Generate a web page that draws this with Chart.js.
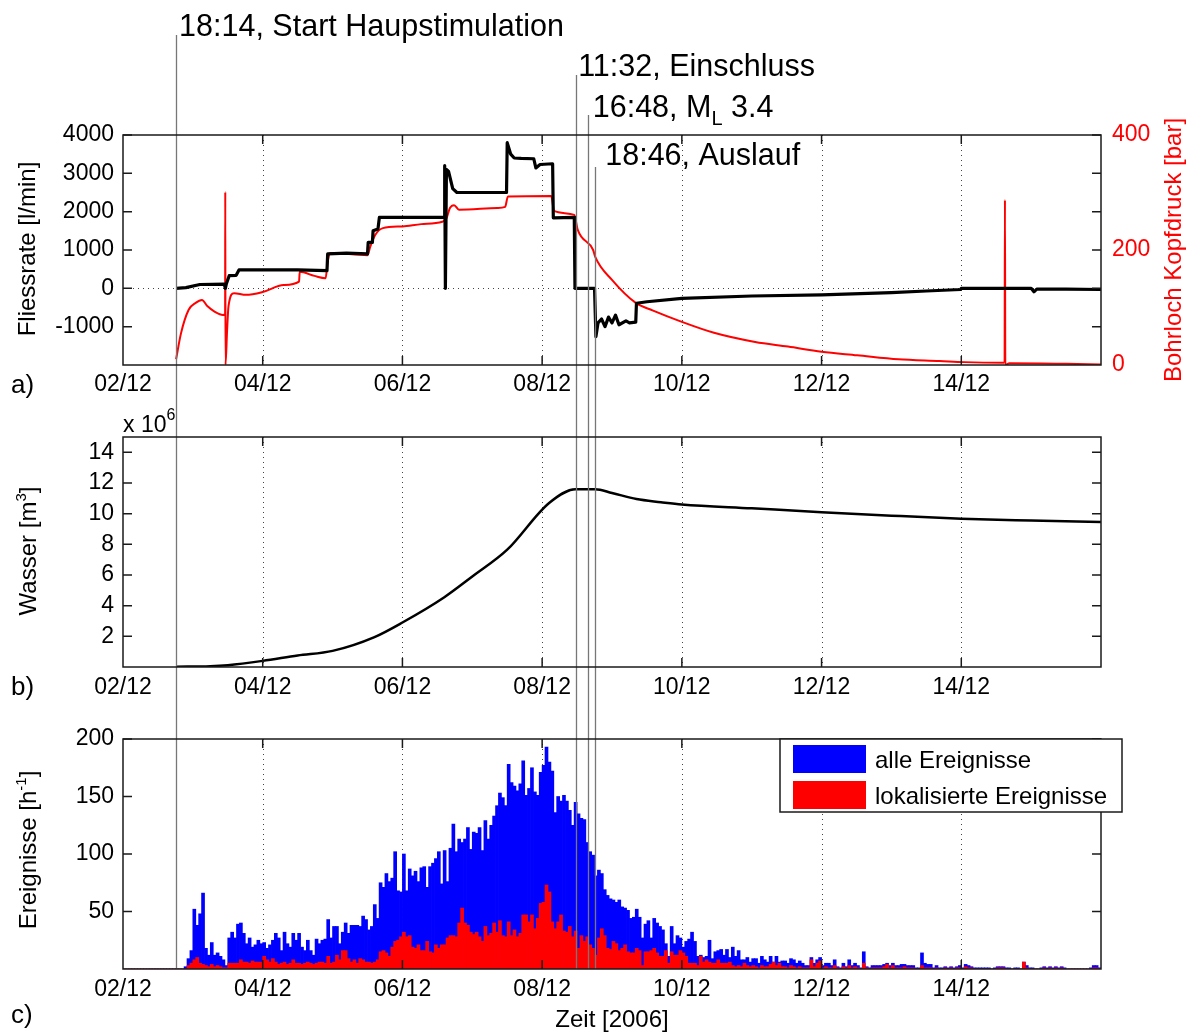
<!DOCTYPE html>
<html>
<head>
<meta charset="utf-8">
<script src="https://cdn.jsdelivr.net/npm/chart.js@4.4.0/dist/chart.umd.min.js"></script>
<style>
  body { margin: 0; background: #fff; }
  canvas { display: block; }
</style>
</head>
<body>
<canvas id="panelA" width="1189" height="400"></canvas>
<canvas id="panelB" width="1189" height="300"></canvas>
<canvas id="panelC" width="1189" height="332"></canvas>
<script>
// x axis: days since 02/12/2006 00:00
const tickDays = [0, 2, 4, 6, 8, 10, 12];
const dayLabels = ['02/12', '04/12', '06/12', '08/12', '10/12', '12/12', '14/12'];

// event markers
const eventDays = [0.76, 6.48, 6.653, 6.76];
const eventLabels = ['18:14, Start Haupstimulation', '11:32, Einschluss', '16:48, M_L 3.4', '18:46, Auslauf'];

// a) flow rate [l/min]
const flowDays = [0.76, 0.9, 1.1, 1.45, 1.465, 1.48, 1.52, 1.62, 1.66, 2.5,
  2.92, 2.93, 3.2, 3.5, 3.51, 3.57, 3.58, 3.65, 3.67, 4.2,
  4.6, 4.605, 4.615, 4.63, 4.66, 4.72, 4.78, 5.2, 5.49, 5.5,
  5.55, 5.6, 5.7, 5.88, 5.91, 5.97, 6.15, 6.16, 6.46, 6.47,
  6.75, 6.77, 6.8, 6.85, 6.9, 6.95, 7.0, 7.05, 7.1, 7.2,
  7.25, 7.34, 7.35, 7.5, 8.0, 9.0, 10.0, 11.0, 11.5, 11.99,
  12.0, 12.5, 13.0, 13.04, 13.08, 13.5, 14.0];
const flowRate = [0, 20, 100, 110, 0, 120, 330, 340, 480, 480,
  460, 900, 920, 900, 1200, 1200, 1500, 1550, 1850, 1850,
  1850, 3200, 0, 3100, 3050, 2600, 2500, 2500, 2500, 3800,
  3500, 3400, 3390, 3380, 3140, 3230, 3250, 1840, 1850, 0,
  0, -1260, -900, -800, -1000, -750, -900, -700, -950, -850,
  -900, -880, -390, -350, -260, -200, -170, -110, -70, -30,
  0, 0, 0, -90, -20, -20, -30];
const flowTicks = [-1000, 0, 1000, 2000, 3000, 4000];

// a) wellhead pressure [bar]
const pressDays = [0.76, 0.83, 0.94, 1.04, 1.13, 1.21, 1.31, 1.43,
  1.462, 1.464, 1.467, 1.49, 1.51, 1.59, 1.76,
  2.0, 2.3, 2.52, 2.53, 2.74, 2.9, 2.93, 2.97,
  3.5, 3.54, 3.61, 3.72,
  4.0, 4.27, 4.57, 4.63, 4.68, 4.74, 4.81,
  5.36, 5.47, 5.51,
  6.13, 6.17, 6.46, 6.51, 6.73, 6.76,
  7.0, 7.34, 7.58, 8.0, 8.46, 9.05, 9.52, 10.0, 10.51, 11.1, 11.69,
  12.04, 12.62, 12.625, 12.63, 12.69, 13.5, 14.0];
const pressure = [10, 55, 96, 108, 113, 102, 93, 87,
  88, 301, 0, 60, 102, 125, 122,
  127, 139, 145, 162, 155, 151, 180, 195,
  191, 206, 226, 238,
  241, 245, 249, 255, 273, 278, 270,
  273, 275, 293,
  294, 268, 261, 235, 200, 188,
  148, 108, 95, 75, 56, 40, 32, 23, 17, 10, 7,
  5, 4, 287, 0, 3, 2, 1];
const pressTicks = [0, 200, 400];

// b) injected water [10^6 m3]
const volDays = [0.76, 1.25, 1.5, 2.0, 2.5, 3.0, 3.6, 4.0, 4.6, 5.0, 5.5, 6.1,
  6.48, 6.76, 7.0, 7.35, 7.7, 8.0, 9.0, 10.0, 11.0, 12.0, 13.0, 14.0];
const volume = [0.02, 0.05, 0.12, 0.4, 0.75, 1.05, 1.95, 2.9, 4.55, 5.9, 7.65, 10.7,
  11.6, 11.6, 11.35, 10.95, 10.75, 10.6, 10.35, 10.1, 9.87, 9.67, 9.55, 9.45];
const volTicks = [2, 4, 6, 8, 10, 12, 14];

// c) events per hour, one row per day
const allEvents = [
  0, 0, 0, 0, 0, 0, 0, 0, 0, 0, 0, 0, 0, 0, 0, 0, 0, 0, 0, 0, 0, 2, 9, 16,
  52, 38, 48, 66, 18, 12, 23, 12, 14, 11, 8, 3, 27, 32, 27, 39, 40, 31, 22, 27, 19, 21, 25, 22,
  23, 18, 21, 25, 31, 27, 16, 32, 22, 19, 31, 25, 31, 19, 16, 25, 16, 12, 26, 22, 25, 26, 43, 27,
  37, 37, 22, 32, 40, 31, 38, 38, 38, 37, 46, 43, 34, 37, 56, 44, 75, 71, 83, 76, 79, 102, 68, 67,
  100, 68, 87, 81, 85, 76, 88, 89, 71, 89, 92, 96, 102, 74, 103, 76, 105, 126, 102, 113, 110, 113, 123, 104,
  119, 118, 123, 103, 129, 113, 125, 133, 142, 153, 149, 142, 178, 162, 159, 155, 161, 181, 151, 157, 175, 154, 151, 171,
  177, 193, 180, 172, 136, 150, 146, 151, 146, 138, 125, 145, 135, 131, 130, 110, 102, 99, 81, 86, 83, 69, 64, 61,
  60, 58, 60, 54, 53, 51, 44, 45, 52, 45, 27, 39, 42, 27, 44, 40, 37, 34, 22, 11, 37, 22, 29, 27,
  19, 24, 26, 32, 24, 11, 12, 10, 11, 25, 9, 15, 16, 17, 12, 17, 10, 19, 11, 16, 8, 8, 10, 6,
  9, 9, 5, 11, 8, 6, 11, 6, 11, 6, 7, 7, 5, 9, 8, 5, 7, 5, 3, 3, 10, 5, 8, 10,
  3, 5, 5, 3, 8, 2, 1, 5, 2, 8, 3, 5, 3, 1, 15, 2, 1, 3, 3, 3, 3, 4, 5, 3,
  5, 3, 3, 4, 4, 3, 3, 3, 1, 1, 14, 5, 4, 4, 1, 3, 1, 1, 2, 1, 2, 1, 2, 3,
  1, 4, 3, 2, 1, 1, 1, 1, 1, 1, 0, 1, 2, 2, 2, 1, 1, 0, 1, 1, 0, 6, 3, 1,
  1, 0, 0, 1, 2, 1, 2, 1, 2, 1, 2, 1, 0, 0, 0, 0, 0, 0, 0, 0, 1, 3, 3, 1
];
const locatedEvents = [
  0, 0, 0, 0, 0, 0, 0, 0, 0, 0, 0, 0, 0, 0, 0, 0, 0, 0, 0, 0, 0, 0, 3, 5,
  8, 10, 5, 4, 3, 2, 4, 2, 3, 2, 1, 1, 5, 5, 5, 5, 8, 6, 6, 5, 7, 6, 6, 6,
  11, 8, 6, 9, 6, 4, 5, 6, 4, 5, 8, 5, 5, 4, 5, 6, 5, 4, 5, 6, 6, 5, 11, 5,
  6, 12, 8, 16, 16, 9, 6, 8, 5, 9, 8, 6, 6, 5, 6, 8, 15, 16, 14, 11, 19, 24, 25, 28,
  32, 28, 29, 19, 18, 21, 16, 16, 24, 15, 14, 21, 18, 21, 21, 27, 29, 29, 28, 40, 53, 40, 38, 32,
  30, 32, 28, 24, 37, 29, 31, 40, 32, 42, 29, 28, 41, 29, 34, 28, 31, 47, 47, 41, 47, 35, 44, 57,
  58, 73, 67, 41, 35, 41, 47, 33, 32, 37, 28, 33, 18, 29, 24, 28, 21, 18, 12, 27, 35, 29, 18, 17,
  24, 22, 16, 18, 21, 15, 14, 14, 18, 16, 3, 15, 15, 16, 18, 14, 11, 11, 16, 5, 15, 12, 12, 16,
  14, 11, 5, 5, 5, 3, 11, 6, 8, 6, 5, 5, 8, 5, 5, 5, 6, 3, 2, 3, 2, 5, 3, 2,
  3, 2, 1, 3, 2, 2, 4, 6, 3, 5, 2, 2, 1, 3, 2, 1, 2, 1, 1, 1, 8, 2, 5, 7,
  1, 2, 1, 1, 3, 1, 0, 2, 1, 3, 1, 2, 1, 0, 5, 1, 0, 1, 1, 1, 1, 2, 4, 1,
  3, 1, 1, 1, 2, 1, 1, 1, 0, 0, 3, 1, 1, 1, 0, 1, 0, 0, 1, 0, 1, 0, 1, 1,
  0, 2, 1, 1, 0, 0, 0, 0, 0, 0, 0, 0, 1, 1, 1, 0, 0, 0, 0, 0, 0, 6, 1, 0,
  0, 0, 0, 0, 1, 0, 1, 0, 1, 0, 1, 0, 0, 0, 0, 0, 0, 0, 0, 0, 0, 1, 1, 0
];
const eventTicks = [50, 100, 150, 200];

const FONT = '"Liberation Sans", Arial, Helvetica, sans-serif';
Chart.defaults.font.family = FONT;
Chart.defaults.font.size = 23;
Chart.defaults.color = '#000';
Chart.defaults.animation = false;
Chart.defaults.plugins.legend.display = false;
Chart.defaults.plugins.tooltip.enabled = false;

function richText(ctx, parts, x, y, opts = {}) {
  ctx.save();
  ctx.translate(x, y);
  if (opts.rotate) ctx.rotate(-Math.PI / 2);
  ctx.textBaseline = 'alphabetic';
  ctx.textAlign = 'left';
  ctx.fillStyle = opts.color || '#000';
  let total = 0;
  const widths = parts.map(p => {
    ctx.font = p.size + 'px ' + FONT;
    const w = ctx.measureText(p.text).width;
    total += w;
    return w;
  });
  let cx = opts.center ? -total / 2 : 0;
  parts.forEach((p, i) => {
    ctx.font = p.size + 'px ' + FONT;
    ctx.fillText(p.text, cx, p.dy || 0);
    cx += widths[i];
  });
  ctx.restore();
}

function labelParts(label) {
  const i = label.indexOf('_');
  if (i < 0) return [{ text: label, size: 30.5 }];
  return [
    { text: label.slice(0, i), size: 30.5 },
    { text: label[i + 1], size: 20, dy: 8 },
    { text: label.slice(i + 2), size: 30.5 }
  ];
}

const decor = {
  id: 'decor',
  beforeDatasetsDraw(chart, args, opts) {
    const { ctx, chartArea: a, scales } = chart;
    ctx.save();
    ctx.strokeStyle = '#444';
    ctx.lineWidth = 1;
    ctx.setLineDash([1, 4]);
    ctx.beginPath();
    scales.x.ticks.forEach(t => {
      if (t.value <= 0 || t.value >= 14) return;
      const px = Math.round(scales.x.getPixelForValue(t.value)) + 0.5;
      ctx.moveTo(px, a.top);
      ctx.lineTo(px, a.bottom);
    });
    if (opts.zeroLine) {
      const py = Math.round(scales.y.getPixelForValue(0)) + 0.5;
      ctx.moveTo(a.left, py);
      ctx.lineTo(a.right, py);
    }
    ctx.stroke();
    ctx.restore();
  },
  afterDraw(chart, args, opts) {
    const { ctx, chartArea: a, scales } = chart;
    const xs = scales.x, ys = scales.y;
    ctx.save();

    // event lines
    ctx.strokeStyle = '#777';
    ctx.lineWidth = 1.3;
    ctx.beginPath();
    eventDays.forEach((d, i) => {
      const px = Math.round(xs.getPixelForValue(d)) + 0.5;
      const top = opts.lineTops ? opts.lineTops[i] : 0;
      const bottom = opts.stopAtArea ? a.bottom : chart.height;
      ctx.moveTo(px, top);
      ctx.lineTo(px, bottom);
    });
    ctx.stroke();

    // frame and inner ticks
    ctx.strokeStyle = '#1a1a1a';
    ctx.lineWidth = 1.5;
    ctx.strokeRect(a.left, a.top, a.right - a.left, a.bottom - a.top);
    ctx.beginPath();
    xs.ticks.forEach(t => {
      if (t.value <= 0 || t.value >= 14) return;
      const px = xs.getPixelForValue(t.value);
      ctx.moveTo(px, a.bottom); ctx.lineTo(px, a.bottom - 9);
      ctx.moveTo(px, a.top); ctx.lineTo(px, a.top + 9);
    });
    ys.ticks.forEach(t => {
      const py = ys.getPixelForValue(t.value);
      ctx.moveTo(a.left, py); ctx.lineTo(a.left + 9, py);
      ctx.moveTo(a.right, py); ctx.lineTo(a.right - 9, py);
    });
    ctx.stroke();
    ctx.restore();

    if (opts.panel === 'a') {
      const offs = [3, 2.5, 5, 10];
      const bases = [36, 76, 117, 165];
      eventLabels.forEach((l, i) => {
        richText(ctx, labelParts(l), xs.getPixelForValue(eventDays[i]) + offs[i], bases[i]);
      });
      richText(ctx, [{ text: 'Fliessrate [l/min]', size: 24 }], 35, 249, { rotate: true, center: true });
      richText(ctx, [{ text: 'Bohrloch Kopfdruck [bar]', size: 24 }], 1181, 250, { rotate: true, center: true, color: '#ff0000' });
      richText(ctx, [{ text: 'a)', size: 26 }], 11, 393);
    } else if (opts.panel === 'b') {
      richText(ctx, [{ text: 'x 10', size: 23 }, { text: '6', size: 16, dy: -12 }], a.left, 32);
      richText(ctx, [{ text: 'Wasser [m', size: 24 }, { text: '3', size: 15, dy: -10 }, { text: ']', size: 24 }], 36, 151, { rotate: true, center: true });
      richText(ctx, [{ text: 'b)', size: 26 }], 11, 295);
    } else if (opts.panel === 'c') {
      richText(ctx, [{ text: 'Ereignisse [h', size: 24 }, { text: '-1', size: 15, dy: -10 }, { text: ']', size: 24 }], 36, 150, { rotate: true, center: true });
      richText(ctx, [{ text: 'Zeit [2006]', size: 24 }], 612, 327, { center: true });
      richText(ctx, [{ text: 'c)', size: 26 }], 11, 323);
      // legend
      const ds = chart.data.datasets;
      const items = [ds.find(d => d.label === 'alle Ereignisse'), ds.find(d => d.label === 'lokalisierte Ereignisse')];
      ctx.save();
      ctx.fillStyle = '#fff';
      ctx.fillRect(780, 39, 342, 73);
      ctx.strokeStyle = '#1a1a1a';
      ctx.lineWidth = 1.5;
      ctx.strokeRect(780, 39, 342, 73);
      items.forEach((d, i) => {
        ctx.fillStyle = d.backgroundColor;
        ctx.fillRect(793, 45 + i * 36, 73, 28);
        richText(ctx, [{ text: d.label, size: 24 }], 875, 68 + i * 36);
      });
      ctx.restore();
    }
  }
};

function dayAxis(height, padding) {
  return {
    type: 'linear', min: 0, max: 14, offset: false,
    grid: { display: false, drawTicks: false },
    border: { display: false },
    afterBuildTicks: s => { s.ticks = tickDays.map(v => ({ value: v })); },
    afterFit: s => { s.height = height; },
    ticks: {
      autoSkip: false, maxRotation: 0, minRotation: 0, padding: padding,
      callback: v => { const i = tickDays.indexOf(v); return i >= 0 ? dayLabels[i] : ''; }
    }
  };
}

function valueAxis(min, max, ticks, opts = {}) {
  return {
    type: 'linear', position: opts.position || 'left', min: min, max: max,
    grid: { display: false, drawTicks: false },
    border: { display: false },
    afterBuildTicks: s => { s.ticks = ticks.map(v => ({ value: v })); },
    afterFit: s => { s.width = opts.width || 123; },
    ticks: { padding: opts.padding || 9, color: opts.color || '#000', callback: v => String(v) }
  };
}

new Chart(document.getElementById('panelA'), {
  type: 'line',
  data: {
    datasets: [
      {
        label: 'Fliessrate',
        data: flowDays.map((d, i) => ({ x: d, y: flowRate[i] })),
        borderColor: '#000', borderWidth: 3.2, borderJoinStyle: 'round',
        pointRadius: 0, yAxisID: 'y', order: 0
      },
      {
        label: 'Bohrloch Kopfdruck',
        data: pressDays.map((d, i) => ({ x: d, y: pressure[i] })),
        borderColor: '#ff0000', borderWidth: 2, borderJoinStyle: 'round',
        cubicInterpolationMode: 'monotone',
        pointRadius: 0, yAxisID: 'y2', order: 1
      }
    ]
  },
  options: {
    responsive: false,
    layout: { padding: { top: 135, left: 0, right: 0, bottom: 0 } },
    scales: {
      x: dayAxis(35, 6),
      y: valueAxis(-2000, 4000, flowTicks),
      y2: valueAxis(0, 400, pressTicks, { position: 'right', width: 88, padding: 11, color: '#ff0000' })
    },
    plugins: { decor: { panel: 'a', zeroLine: true, lineTops: [35, 75, 115, 167] } }
  },
  plugins: [decor]
});

new Chart(document.getElementById('panelB'), {
  type: 'line',
  data: {
    datasets: [{
      label: 'Wasser',
      data: volDays.map((d, i) => ({ x: d, y: volume[i] })),
      borderColor: '#000', borderWidth: 2.5, pointRadius: 0,
      cubicInterpolationMode: 'monotone'
    }]
  },
  options: {
    responsive: false,
    layout: { padding: { top: 37, left: 0, right: 88, bottom: 0 } },
    scales: {
      x: dayAxis(33, 7),
      y: valueAxis(0, 15, volTicks)
    },
    plugins: { decor: { panel: 'b' } }
  },
  plugins: [decor]
});

const hourCenters = allEvents.map((_, i) => (i + 0.5) / 24);

new Chart(document.getElementById('panelC'), {
  type: 'bar',
  data: {
    datasets: [
      {
        label: 'lokalisierte Ereignisse',
        data: hourCenters.map((d, i) => ({ x: d, y: locatedEvents[i] })),
        backgroundColor: '#ff0000', order: 0
      },
      {
        label: 'alle Ereignisse',
        data: hourCenters.map((d, i) => ({ x: d, y: allEvents[i] })),
        backgroundColor: '#0000ff', order: 1
      }
    ]
  },
  options: {
    responsive: false,
    grouped: false,
    barThickness: 3,
    layout: { padding: { top: 39, left: 0, right: 88, bottom: 0 } },
    scales: {
      x: dayAxis(63, 7),
      y: valueAxis(0, 200, eventTicks)
    },
    plugins: { decor: { panel: 'c', stopAtArea: true } }
  },
  plugins: [decor]
});
</script>
</body>
</html>
